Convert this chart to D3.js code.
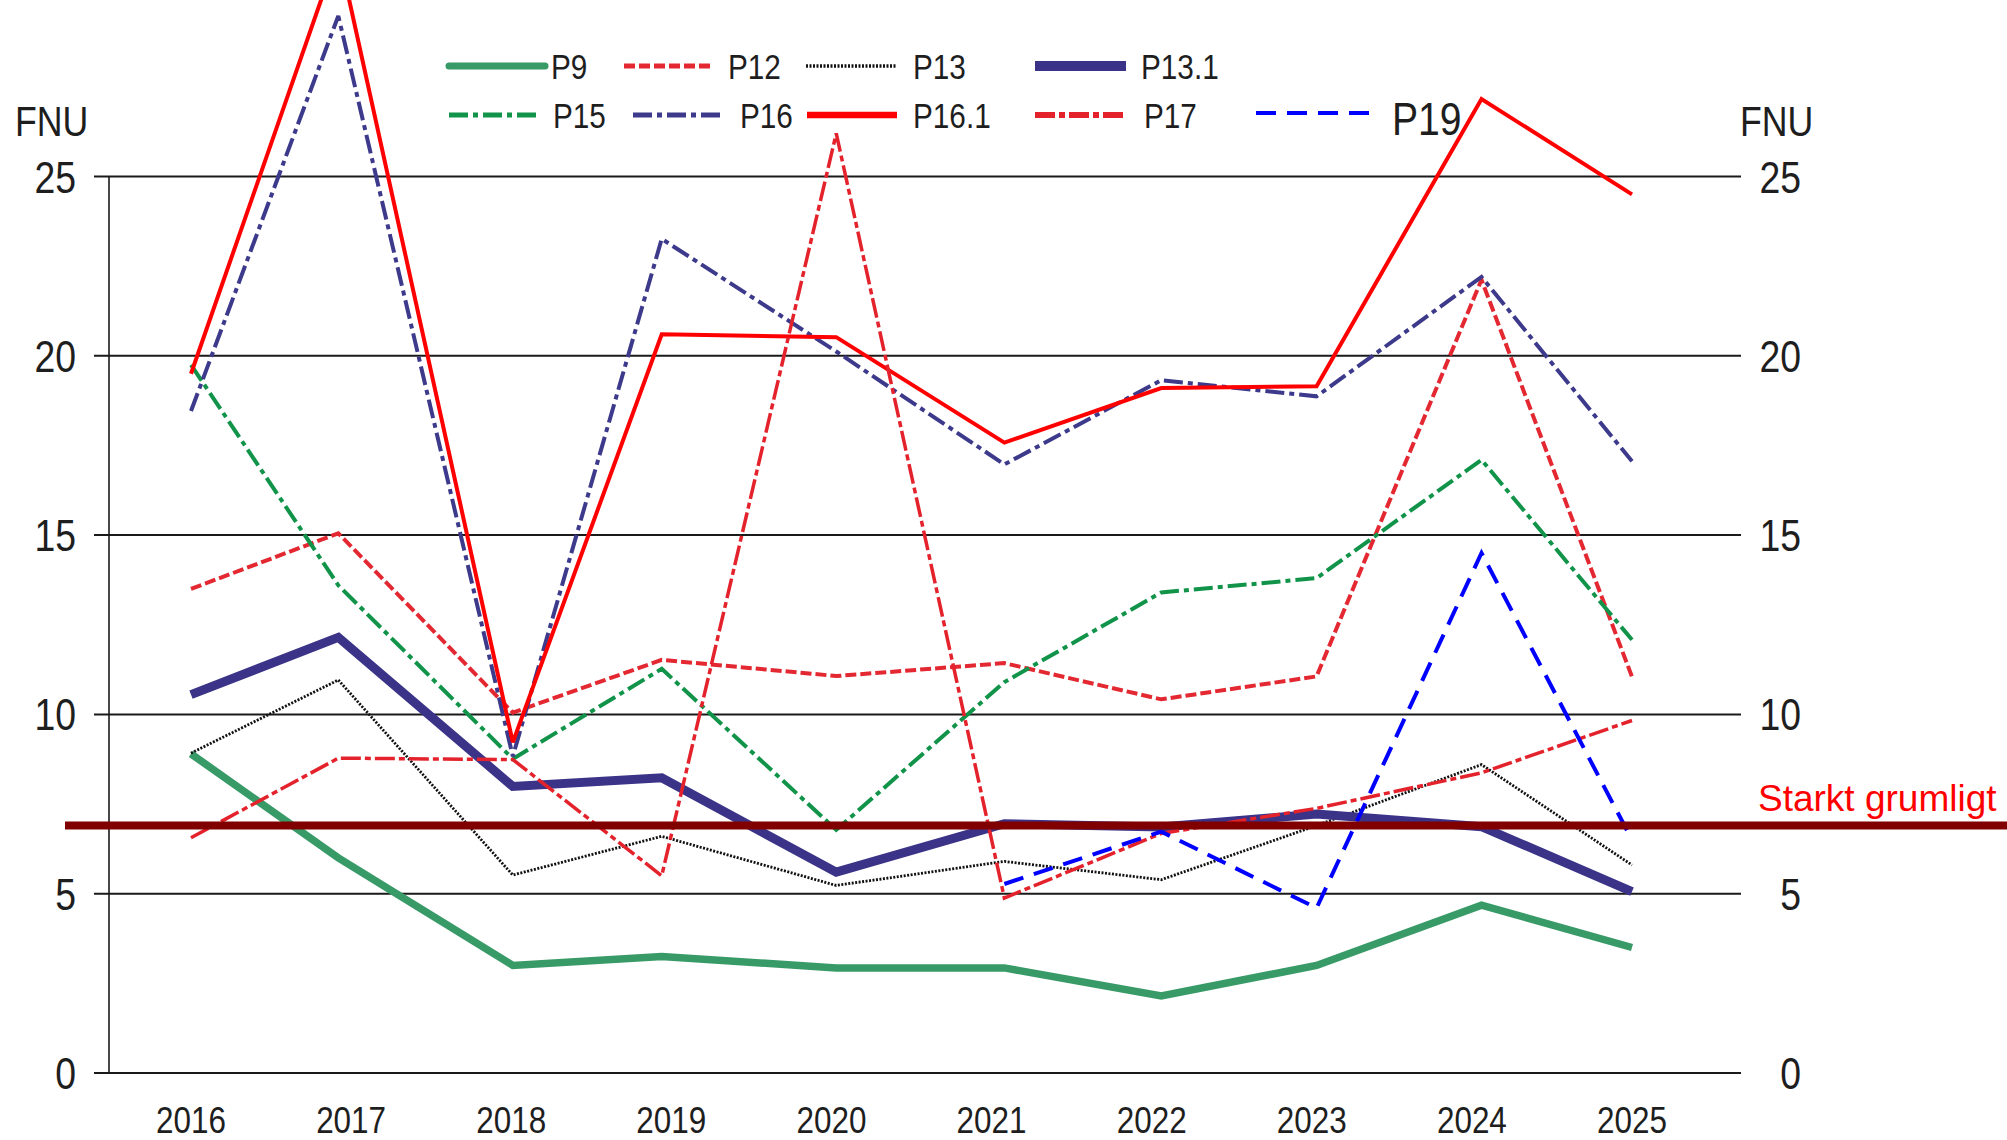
<!DOCTYPE html>
<html>
<head>
<meta charset="utf-8">
<script src="https://cdn.jsdelivr.net/npm/d3@7"></script>
<style>
  html, body { margin: 0; padding: 0; background: #fff; }
  svg { display: block; }
</style>
</head>
<body>
<svg id="chart" width="2007" height="1140"></svg>
<script>
// ---------------- DATA ----------------
const yearLabels = [2016, 2017, 2018, 2019, 2020, 2021, 2022, 2023, 2024, 2025];
// sampling time of each yearly measurement (decimal year)
const sampleTimes = [2016.00, 2016.92, 2018.01, 2018.94, 2020.03, 2021.08, 2022.06, 2023.03, 2024.06, 2025.00];
const yTicks = [0, 5, 10, 15, 20, 25];
const unitLabel = "FNU";
const seriesNames = ["P9", "P12", "P13", "P13.1", "P15", "P16", "P16.1", "P17", "P19"];
const P9   = [8.9, 6.0, 3.0, 3.25, 2.93, 2.93, 2.15, 3.0, 4.68, 3.5];
const P12  = [13.5, 15.05, 10.05, 11.52, 11.07, 11.43, 10.42, 11.06, 22.12, 11.05];
const P13  = [8.92, 10.96, 5.52, 6.6, 5.23, 5.9, 5.39, 6.9, 8.6, 5.8];
const P13_1 = [10.55, 12.15, 7.99, 8.23, 5.6, 6.95, 6.86, 7.22, 6.87, 5.06];
const P15  = [19.75, 13.6, 8.76, 11.27, 6.78, 10.9, 13.4, 13.8, 17.1, 12.08];
const P16  = [18.46, 29.48, 8.83, 23.26, 20.12, 16.97, 19.32, 18.87, 22.2, 17.06];
const P16_1 = [19.5, 31.3, 9.22, 20.6, 20.52, 17.58, 19.1, 19.15, 27.16, 24.5];
const P17  = [6.56, 8.78, 8.74, 5.5, 26.2, 4.88, 6.68, 7.38, 8.37, 9.83];
const P19  = [null, null, null, null, null, 5.27, 6.73, 4.6, 14.5, 6.5];
const thresholdValue = 6.9;
const thresholdLabel = "Starkt grumligt";

const seriesValues = {"P9": P9, "P12": P12, "P13": P13, "P13.1": P13_1, "P15": P15,
                      "P16": P16, "P16.1": P16_1, "P17": P17, "P19": P19};

// ---------------- STYLES ----------------
const styles = {
  "P9":    {color: "#389a67", width: 7.5, dash: null,          lw: 7},
  "P12":   {color: "#e32832", width: 4,   dash: "11,4",        lw: 5},
  "P13":   {color: "#111111", width: 2.8, dash: "2,1.5",       lw: 3.5},
  "P13.1": {color: "#3a3388", width: 9,   dash: null,          lw: 10},
  "P15":   {color: "#11944a", width: 4,   dash: "19,5,5,5",    lw: 5},
  "P16":   {color: "#3d3a8c", width: 4,   dash: "19,5,5,5",    lw: 5},
  "P16.1": {color: "#ff0000", width: 4,   dash: null,          lw: 6.5},
  "P17":   {color: "#e4222c", width: 3.5, dash: "20,4,6,4",    lw: 6},
  "P19":   {color: "#0000ff", width: 4,   dash: "20,11",       lw: 4}
};
const legendLayout = {
  "P9":    {x1: 449,  x2: 545,  tx: 551,  y: 66,  fs: 35},
  "P12":   {x1: 624,  x2: 713,  tx: 728,  y: 66,  fs: 35},
  "P13":   {x1: 806,  x2: 897,  tx: 913,  y: 66,  fs: 35},
  "P13.1": {x1: 1035, x2: 1126, tx: 1141, y: 66,  fs: 35},
  "P15":   {x1: 449,  x2: 541,  tx: 553,  y: 115, fs: 35},
  "P16":   {x1: 633,  x2: 725,  tx: 740,  y: 115, fs: 35},
  "P16.1": {x1: 807,  x2: 897,  tx: 913,  y: 115, fs: 35},
  "P17":   {x1: 1035, x2: 1126, tx: 1144, y: 115, fs: 35},
  "P19":   {x1: 1256, x2: 1370, tx: 1392, y: 113, fs: 46}
};
const FONT = "'Liberation Sans', Arial, sans-serif";
const NARROW_SCALE = 0.85;
const TEXT = "#1e1e1e";

// ---------------- CHART ----------------
const svg = d3.select("#chart");
svg.append("rect").attr("width", 2007).attr("height", 1140).attr("fill", "#fff");

const x = d3.scaleLinear().domain([2016, 2025]).range([191, 1632]);
const y = d3.scaleLinear().domain([0, 25]).range([1073, 176.5]);

const axisLeftX = 109, gridStart = 94, gridEnd = 1741;

// narrow text helper (horizontally condensed sans)
function narrowText(parent, px, py, str, size, anchor) {
  return parent.append("text")
    .attr("transform", `translate(${px},${py}) scale(${NARROW_SCALE},1)`)
    .attr("text-anchor", anchor || "start")
    .attr("font-family", FONT).attr("font-size", size).attr("fill", TEXT)
    .text(str);
}

// gridlines
svg.append("g").selectAll("line").data(yTicks).join("line")
  .attr("x1", gridStart).attr("x2", gridEnd)
  .attr("y1", d => y(d)).attr("y2", d => y(d))
  .attr("stroke", "#1a1a1a").attr("stroke-width", 2);

// left axis line
svg.append("line").attr("x1", axisLeftX).attr("x2", axisLeftX)
  .attr("y1", y(25)).attr("y2", y(0))
  .attr("stroke", "#1a1a1a").attr("stroke-width", 1.6);

// y labels both sides
const gl = svg.append("g");
yTicks.forEach(d => {
  narrowText(gl, 76, y(d) + 16, d, 44, "end");
  narrowText(gl, 1801, y(d) + 16, d, 44, "end");
});

// unit labels
narrowText(svg, 15, 136, unitLabel, 42, "start");
narrowText(svg, 1740, 136, unitLabel, 42, "start");

// x labels
const gx = svg.append("g");
yearLabels.forEach(d => narrowText(gx, x(d), 1133, d, 37, "middle"));

// series lines
const line = d3.line()
  .defined(d => d.v !== null)
  .x(d => x(d.t)).y(d => y(d.v));

seriesNames.forEach(name => {
  const st = styles[name];
  const pts = sampleTimes.map((t, i) => ({t: t, v: seriesValues[name][i]}));
  svg.append("path").datum(pts)
    .attr("d", line)
    .attr("fill", "none")
    .attr("stroke", st.color)
    .attr("stroke-width", st.width)
    .attr("stroke-dasharray", st.dash)
    .attr("stroke-linejoin", "miter")
    .attr("stroke-miterlimit", 3);
});

// threshold line
svg.append("line")
  .attr("x1", 65).attr("x2", 2007)
  .attr("y1", y(thresholdValue)).attr("y2", y(thresholdValue))
  .attr("stroke", "#800000").attr("stroke-width", 8);
svg.append("text")
  .attr("x", 1758).attr("y", 811)
  .attr("font-family", FONT)
  .attr("font-size", 37).attr("fill", "#ff0000")
  .text(thresholdLabel);

// legend
const lg = svg.append("g");
seriesNames.forEach(name => {
  const st = styles[name], L = legendLayout[name];
  lg.append("line")
    .attr("x1", L.x1).attr("x2", L.x2).attr("y1", L.y).attr("y2", L.y)
    .attr("stroke", st.color).attr("stroke-width", st.lw)
    .attr("stroke-dasharray", st.dash)
    .attr("stroke-linecap", name === "P9" ? "round" : "butt");
  narrowText(lg, L.tx, L.y + (L.fs === 46 ? 22 : 13), name, L.fs, "start");
});
</script>
</body>
</html>
